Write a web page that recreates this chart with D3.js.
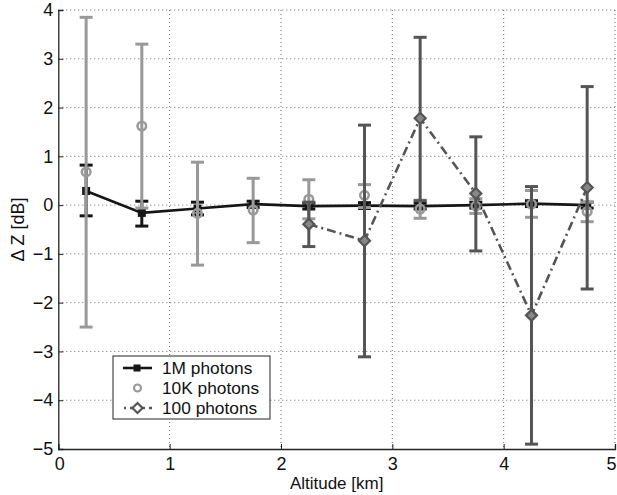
<!DOCTYPE html>
<html><head><meta charset="utf-8">
<script src="https://cdn.jsdelivr.net/npm/d3@7"></script>
<style>body{margin:0;background:#fff}svg{display:block;font-family:"Liberation Sans",Arial,sans-serif}</style>
</head><body><svg id="c" width="617" height="495"></svg>
<script>
const altitudes = [0.25,0.75,1.25,1.75,2.25,2.75,3.25,3.75,4.25,4.75];
const m1Value = [0.29,-0.16,-0.07,0.02,-0.02,-0.01,-0.02,0.0,0.03,0.0];
const m1Lo    = [-0.22,-0.43,-0.2,-0.05,-0.08,-0.07,-0.08,-0.06,-0.03,-0.06];
const m1Hi    = [0.82,0.08,0.06,0.08,0.04,0.05,0.04,0.06,0.09,0.06];
const k10Value = [0.68,1.62,-0.17,-0.1,0.12,0.2,-0.08,-0.02,0.02,-0.13];
const k10Lo    = [-2.5,-0.06,-1.23,-0.77,-0.28,-0.05,-0.27,-0.17,-0.25,-0.34];
const k10Hi    = [3.85,3.3,0.88,0.55,0.52,0.42,0.1,0.13,0.3,0.06];
const h100Alt   = [2.25,2.75,3.25,3.75,4.25,4.75];
const h100Value = [-0.39,-0.73,1.78,0.24,-2.26,0.36];
const h100Lo    = [-0.85,-3.11,0.09,-0.94,-4.9,-1.72];
const h100Hi    = [0.06,1.64,3.44,1.4,0.38,2.43];
const xTicks = [0,1,2,3,4,5];
const yTicks = [-5,-4,-3,-2,-1,0,1,2,3,4];
const legendLabels = ["1M photons","10K photons","100 photons"];

const svg = d3.select("#c");
const L=58.3, R=615, T=10, B=449;
const x = d3.scaleLinear().domain([0,5]).range([L,R]);
const y = d3.scaleLinear().domain([-5,4]).range([B,T]);
const fmt = d => String(d).replace("-","\u2212");

// grid
const g = svg.append("g");
g.selectAll(".gx").data(xTicks.slice(1)).join("line")
 .attr("x1",d=>x(d)).attr("x2",d=>x(d)).attr("y1",T).attr("y2",B)
 .attr("stroke","#666").attr("stroke-width",1).attr("stroke-dasharray","1,3");
g.selectAll(".gy").data(yTicks.slice(1)).join("line")
 .attr("x1",L).attr("x2",R).attr("y1",d=>y(d)).attr("y2",d=>y(d))
 .attr("stroke","#666").attr("stroke-width",1).attr("stroke-dasharray","1,3");

// axes
const xa = svg.append("g").attr("transform",`translate(0,${B})`)
 .call(d3.axisBottom(x).tickValues(xTicks).tickSize(-5).tickPadding(8).tickFormat(fmt));
const ya = svg.append("g").attr("transform",`translate(${L},0)`)
 .call(d3.axisLeft(y).tickValues(yTicks).tickSize(-5).tickPadding(5).tickFormat(fmt));
[xa,ya].forEach(a=>{
  a.select(".domain").attr("stroke","#222").attr("stroke-width",1.3);
  a.selectAll(".tick line").attr("stroke","#222");
  a.selectAll(".tick text").attr("font-size",18).attr("fill","#111").attr("font-family","Liberation Sans, Arial, sans-serif");
});
xa.selectAll(".tick text").attr("dx",(d)=>d===0?1:(d===5?-4:0));
// label
svg.append("text").attr("x",(L+R)/2).attr("y",489).attr("text-anchor","middle")
 .attr("font-size",17).attr("fill","#111").text("Altitude [km]");
svg.append("text").attr("transform",`translate(24,${(T+B)/2}) rotate(-90)`).attr("text-anchor","middle")
 .attr("font-size",18).attr("fill","#111").text("\u0394 Z [dB]");

function errorbars(xs, lo, hi, color, w){
  const e = svg.append("g").attr("stroke",color).attr("stroke-width",w).attr("fill","none");
  xs.forEach((a,i)=>{
    e.append("line").attr("x1",x(a)).attr("x2",x(a)).attr("y1",y(lo[i])).attr("y2",y(hi[i]));
    [lo[i],hi[i]].forEach(v=>e.append("line").attr("x1",x(a)-6.5).attr("x2",x(a)+6.5).attr("y1",y(v)).attr("y2",y(v)));
  });
}
const line = d3.line().x(d=>x(d[0])).y(d=>y(d[1]));

// 1M
const c1="#151515", c2="#999999", c3="#555555";
errorbars(altitudes,m1Lo,m1Hi,c1,3);
svg.append("path").attr("d",line(altitudes.map((a,i)=>[a,m1Value[i]]))).attr("stroke",c1).attr("stroke-width",2.6).attr("fill","none");
svg.selectAll(".sq").data(altitudes).join("rect")
 .attr("x",(d)=>x(d)-4).attr("y",(d,i)=>y(m1Value[i])-4).attr("width",8).attr("height",8)
 .attr("fill",c1);

// 10K
errorbars(altitudes,k10Lo,k10Hi,c2,3);
svg.selectAll(".ci").data(altitudes).join("circle")
 .attr("cx",d=>x(d)).attr("cy",(d,i)=>y(k10Value[i])).attr("r",4.3)
 .attr("fill","none").attr("stroke",c2).attr("stroke-width",2.5);

// 100
errorbars(h100Alt,h100Lo,h100Hi,c3,3);
svg.append("path").attr("d",line(h100Alt.map((a,i)=>[a,h100Value[i]]))).attr("stroke",c3).attr("stroke-width",2.6)
 .attr("fill","none").attr("stroke-dasharray","9,4,2,4");
const diamond = (cx,cy,s)=>`M${cx},${cy-s}L${cx+s},${cy}L${cx},${cy+s}L${cx-s},${cy}Z`;
svg.selectAll(".di").data(h100Alt).join("path")
 .attr("d",(d,i)=>diamond(x(d),y(h100Value[i]),5.5))
 .attr("fill","#888").attr("stroke",c3).attr("stroke-width",2.2);

// legend
const lg = svg.append("g");
lg.append("rect").attr("x",113).attr("y",356).attr("width",157).attr("height",63)
 .attr("fill","#fff").attr("stroke","#222").attr("stroke-width",1);
const rows=[368,388,408];
lg.append("line").attr("x1",123).attr("x2",152).attr("y1",rows[0]).attr("y2",rows[0]).attr("stroke",c1).attr("stroke-width",2.6);
lg.append("rect").attr("x",133.5).attr("y",rows[0]-3.5).attr("width",7).attr("height",7).attr("fill",c1);
lg.append("circle").attr("cx",137.5).attr("cy",rows[1]).attr("r",3.5).attr("fill","none").attr("stroke",c2).attr("stroke-width",2.2);
lg.append("line").attr("x1",123).attr("x2",152).attr("y1",rows[2]).attr("y2",rows[2]).attr("stroke",c3).attr("stroke-width",2.6).attr("stroke-dasharray","2,4,9,4").attr("stroke-dashoffset",-1);
lg.append("path").attr("d",diamond(137.5,rows[2],5)).attr("fill","#fff").attr("stroke",c3).attr("stroke-width",2.2);
lg.selectAll(".lt").data(legendLabels).join("text")
 .attr("x",162).attr("y",(d,i)=>rows[i]+6).attr("font-size",17.3).attr("fill","#111").text(d=>d);
</script></body></html>
